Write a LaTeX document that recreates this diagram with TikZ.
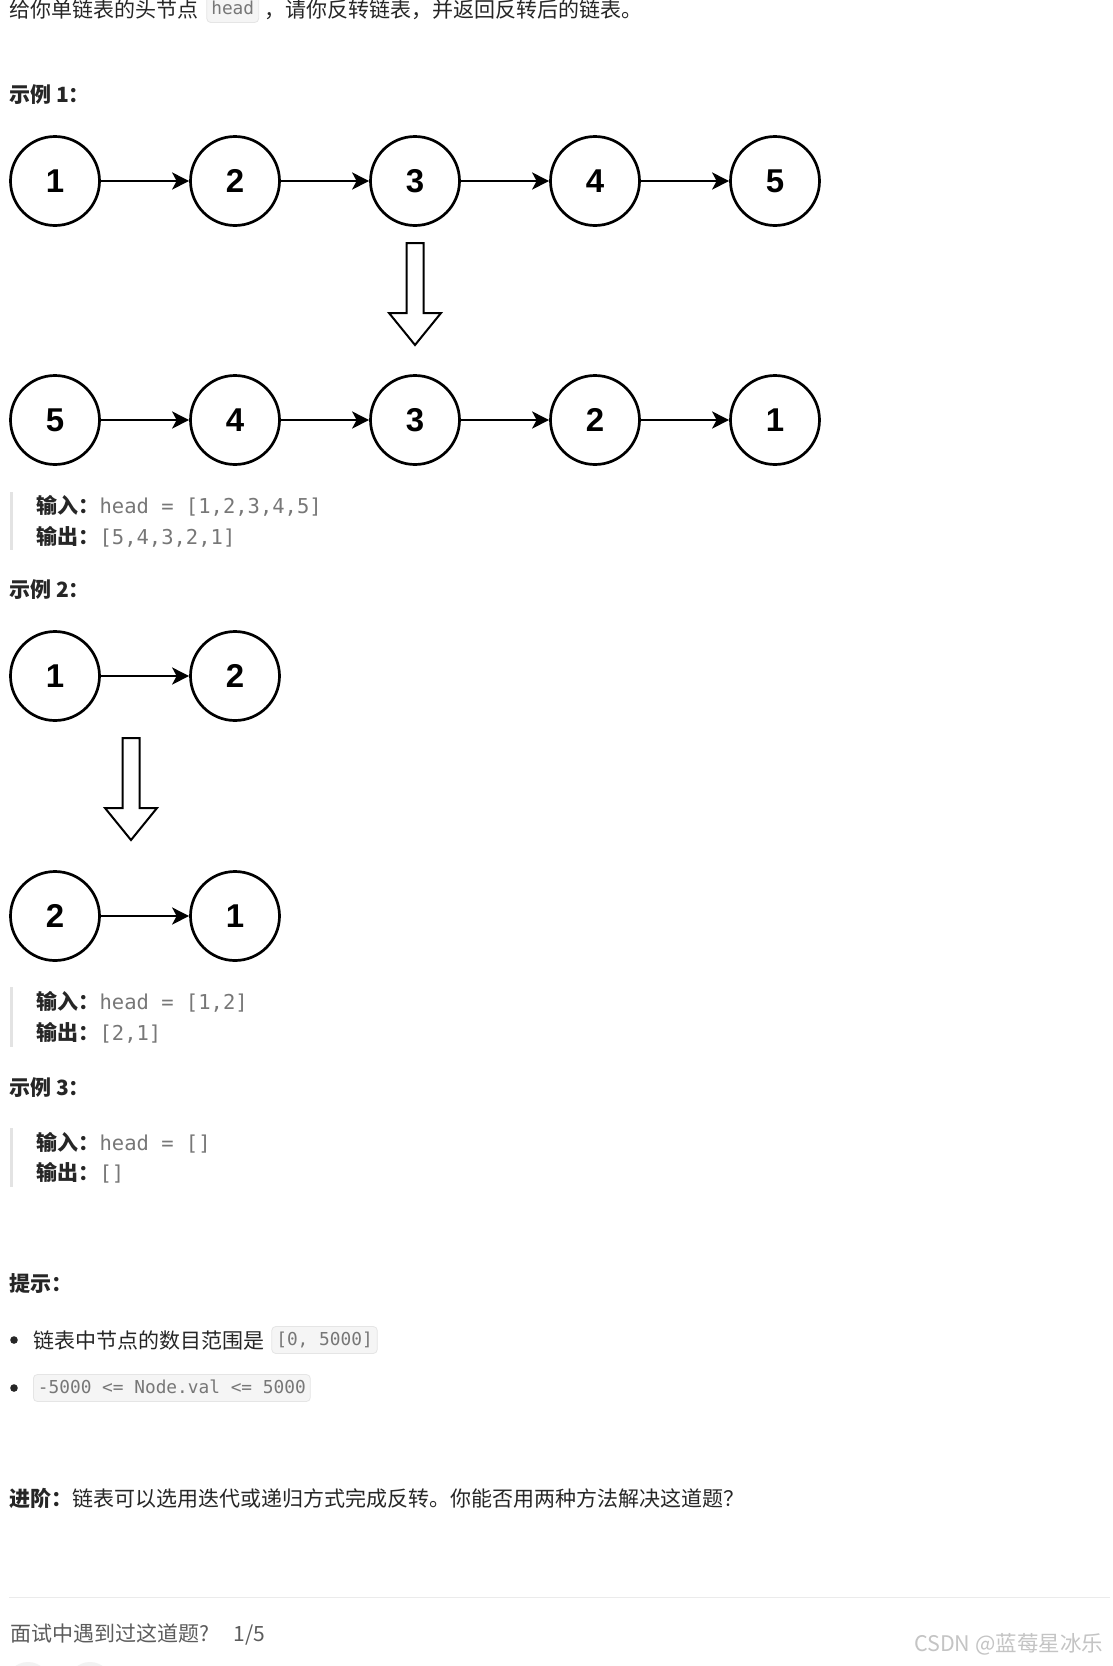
\documentclass[tikz,border=0pt]{standalone}
\usepackage{fontspec}
\setmainfont{Noto Sans CJK SC}
\newfontfamily\codefont{DejaVu Sans Mono}
\newfontfamily\digfont{Liberation Sans}
\usetikzlibrary{arrows.meta,positioning}
\definecolor{fg}{HTML}{262626}
\definecolor{fgsec}{HTML}{5C5C5C}
\definecolor{codefg}{HTML}{777777}
\definecolor{codebg}{HTML}{F5F5F5}
\definecolor{codeborder}{HTML}{E5E5E5}
\definecolor{quotebar}{HTML}{E3E3E3}
\definecolor{rulecol}{HTML}{EBEBEB}
\definecolor{wm}{HTML}{C4C4C4}
\definecolor{ghost}{HTML}{F2F2F2}
\begin{document}
\begin{tikzpicture}[x=1pt,y=-1pt,
  txt/.style={anchor=west, inner sep=0pt, text height=18.5pt, text depth=2.5pt, font=\fontsize{21}{25}\selectfont, text=fg},
  boldtxt/.style={txt, font=\fontsize{21}{25}\selectfont\bfseries},
  qcode/.style={txt, font=\codefont\fontsize{20.5}{25}\selectfont, text=codefg},
  codebox/.style={anchor=west, fill=codebg, draw=codeborder, line width=0.8pt, rounded corners=4pt, inner xsep=4.5pt, inner ysep=4pt, text height=15pt, text depth=4pt, font=\codefont\fontsize{17.8}{20}\selectfont, text=codefg},
  circ/.style={circle, draw=black, line width=2.7pt, minimum size=89pt, inner sep=0pt, font=\digfont\bfseries\fontsize{33}{33}\selectfont},
  link/.style={line width=2.6pt, -{Stealth[length=17pt, width=17pt, inset=4.5pt]}},
  hollow/.style={draw=black, line width=2pt, fill=white, line join=miter},
  qbar/.style={fill=quotebar},
]
\useasboundingbox (0,0) rectangle (1112,1666);
\fill[white] (0,0) rectangle (1112,1666);

% intro line
\node[txt] (intro1) at (9,9) {给你单链表的头节点};
\node[codebox, right=8pt of intro1] (intro2) {head};
\node[txt, right=5pt of intro2] (intro3) {，请你反转链表，并返回反转后的链表。};

% example 1
\node[boldtxt] (ex1) at (9,94) {示例 1：};
\node[circ] (a1) at (55,181) {1};
\node[circ] (a2) at (235,181) {2};
\node[circ] (a3) at (415,181) {3};
\node[circ] (a4) at (595,181) {4};
\node[circ] (a5) at (775,181) {5};
\draw[link] (a1) -- (a2);
\draw[link] (a2) -- (a3);
\draw[link] (a3) -- (a4);
\draw[link] (a4) -- (a5);

\draw[hollow] (406.5,243) -- (423.5,243) -- (423.5,313) -- (441,313) -- (415,345) -- (389,313) -- (406.5,313) -- cycle;

\node[circ] (b1) at (55,420) {5};
\node[circ] (b2) at (235,420) {4};
\node[circ] (b3) at (415,420) {3};
\node[circ] (b4) at (595,420) {2};
\node[circ] (b5) at (775,420) {1};
\draw[link] (b1) -- (b2);
\draw[link] (b2) -- (b3);
\draw[link] (b3) -- (b4);
\draw[link] (b4) -- (b5);

\fill[qbar] (10,492) rectangle (13,550);
\node[boldtxt] (in1) at (36,505) {输入：};
\node[qcode, right=0pt of in1] (in1v) {head = [1,2,3,4,5]};
\node[boldtxt] (out1) at (36,536) {输出：};
\node[qcode, right=0pt of out1] (out1v) {[5,4,3,2,1]};

% example 2
\node[boldtxt] (ex2) at (9,589) {示例 2：};
\node[circ] (c1) at (55,676) {1};
\node[circ] (c2) at (235,676) {2};
\draw[link] (c1) -- (c2);

\draw[hollow] (122.5,738) -- (139.5,738) -- (139.5,808) -- (157,808) -- (131,840) -- (105,808) -- (122.5,808) -- cycle;

\node[circ] (d1) at (55,916) {2};
\node[circ] (d2) at (235,916) {1};
\draw[link] (d1) -- (d2);

\fill[qbar] (10,987) rectangle (13,1047);
\node[boldtxt] (in2) at (36,1001) {输入：};
\node[qcode, right=0pt of in2] (in2v) {head = [1,2]};
\node[boldtxt] (out2) at (36,1032) {输出：};
\node[qcode, right=0pt of out2] (out2v) {[2,1]};

% example 3
\node[boldtxt] (ex3) at (9,1087) {示例 3：};
\fill[qbar] (10,1128) rectangle (13,1187);
\node[boldtxt] (in3) at (36,1142) {输入：};
\node[qcode, right=0pt of in3] (in3v) {head = []};
\node[boldtxt] (out3) at (36,1172) {输出：};
\node[qcode, right=0pt of out3] (out3v) {[]};

% hints
\node[boldtxt] (hint) at (9,1283) {提示：};
\fill[fg] (14,1340) circle (3.8);
\node[txt] (h1) at (33,1340) {链表中节点的数目范围是};
\node[codebox, right=7pt of h1] (h1c) {[0, 5000]};
\fill[fg] (14,1388) circle (3.8);
\node[codebox] (h2c) at (33,1388) {-5000 <= Node.val <= 5000};

% follow-up
\node[boldtxt] (adv1) at (9,1498) {进阶：};
\node[txt, right=0pt of adv1] (adv2) {链表可以选用迭代或递归方式完成反转。你能否用两种方法解决这道题？};

\draw[rulecol, line width=1pt] (9,1597) -- (1110,1597);

\node[txt, text=fgsec] (ask) at (10,1633) {面试中遇到过这道题?};
\node[txt, text=fgsec, right=24pt of ask] (cnt) {1/5};

\node[txt, text=wm, font=\fontsize{21.5}{25}\selectfont] (wmk) at (914,1643) {CSDN @蓝莓星冰乐};

\begin{scope}
\clip (0,0) rectangle (1112,1666);
\fill[ghost] (28,1684) circle (22);
\fill[ghost] (90,1684) circle (22);
\end{scope}
\end{tikzpicture}
\end{document}
